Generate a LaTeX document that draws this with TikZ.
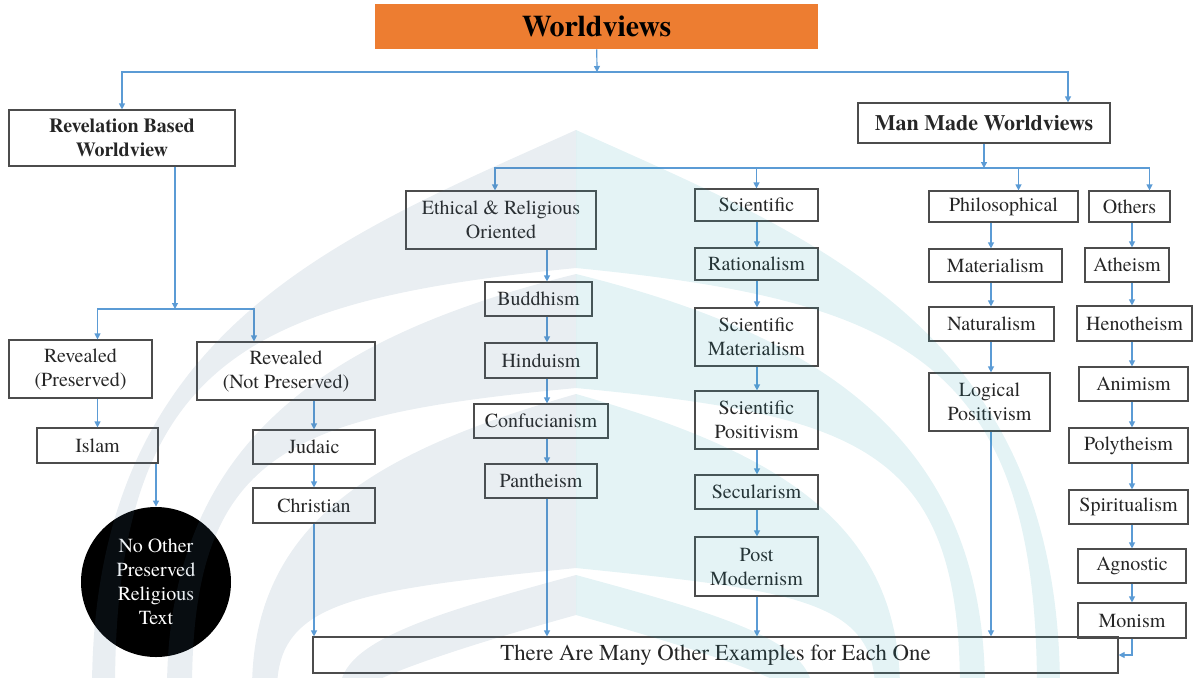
\documentclass[tikz,border=0pt]{standalone}
\usepackage{fontspec}
\setmainfont{texgyretermes}[Extension=.otf, UprightFont=*-regular, BoldFont=*-bold,
  ItalicFont=*-italic, BoldItalicFont=*-bolditalic]
\usetikzlibrary{arrows.meta}

\definecolor{linkblue}{HTML}{5B9BD5}
\definecolor{titleorange}{HTML}{ED7D31}
\definecolor{wmgray}{HTML}{487193}
\definecolor{wmteal}{HTML}{1E9BAC}

% one pointed arch of the fan, mirrored about x=576
\newcommand{\fanarch}[5]{(#1,690) .. controls (#1,#2) and (#3,#4) .. (576,#5) .. controls ({1152-#3},#4) and ({1152-#1},#2) .. ({1152-#1},690) -- cycle}
% the bands: outer arch, then the inner one cut out of it
\newcommand{\fanbands}{92/330/336/238/130/115/360/250/300/268,
  167/440/330/335/274/192/450/290/415/388,
  252/520/380/450/394/277/600/360/590/568,
  340/640/440/612/575/365/680/450/650/615}

\tikzset{
  box/.style={draw=black!70, line width=0.6pt, inner sep=0pt, align=center,
    text=black!85, font=\fontsize{10}{12}\selectfont},
  head/.style={box, font=\fontsize{10}{12}\selectfont\bfseries},
  link/.style={draw=linkblue, line width=0.6pt, -{Triangle[length=3pt,width=3pt]}},
}

\begin{document}
\begin{tikzpicture}[x=0.5pt, y=-0.5pt]
  \useasboundingbox (0,0) rectangle (1194,677);

  % top
  \node[fill=titleorange, minimum width=221.5pt, minimum height=22.5pt,
    font=\fontsize{15}{18}\selectfont\bfseries] (title) at (596.5,26.5) {Worldviews};
  \node[head, minimum width=113pt, minimum height=28pt] (rev) at (122,138) {Revelation Based\\Worldview};
  \node[head, minimum width=126pt, minimum height=20pt,
    font=\fontsize{11}{13}\selectfont\bfseries] (man) at (984,123) {Man Made Worldviews};

  % revelation side
  \node[box, minimum width=71.5pt, minimum height=29pt] (pres) at (80.5,369) {Revealed\\(Preserved)};
  \node[box, minimum width=89pt, minimum height=29pt] (notpres) at (286,371) {Revealed\\(Not Preserved)};
  \node[box, minimum width=60.5pt, minimum height=17.5pt] (islam) at (97.5,445.5) {Islam};
  \node[box, minimum width=61pt, minimum height=17pt] (judaic) at (314,447) {Judaic};
  \node[box, minimum width=61pt, minimum height=17.5pt] (christian) at (314,505.5) {Christian};
  \node[circle, fill=black, text=white, minimum size=75pt, inner sep=0pt, align=center,
    font=\fontsize{10}{12}\selectfont] (circ) at (156,582) {No Other\\Preserved\\Religious\\Text};

  % ethical & religious
  \node[box, minimum width=95pt, minimum height=29pt] (ethical) at (501,220) {Ethical \& Religious\\Oriented};
  \node[box, minimum width=53.5pt, minimum height=17pt] (buddhism) at (538.5,299) {Buddhism};
  \node[box, minimum width=56pt, minimum height=17.5pt] (hinduism) at (541,360.5) {Hinduism};
  \node[box, minimum width=67pt, minimum height=17pt] (confucianism) at (541,421) {Confucianism};
  \node[box, minimum width=56pt, minimum height=17pt] (pantheism) at (541,481) {Pantheism};

  % scientific
  \node[box, minimum width=61.5pt, minimum height=16pt] (scientific) at (756.5,205) {Scientific};
  \node[box, minimum width=61.5pt, minimum height=16pt] (rationalism) at (756.5,264) {Rationalism};
  \node[box, minimum width=61.5pt, minimum height=29pt] (scimat) at (756.5,337) {Scientific\\Materialism};
  \node[box, minimum width=61.5pt, minimum height=29pt] (scipos) at (756.5,420) {Scientific\\Positivism};
  \node[box, minimum width=61.5pt, minimum height=17pt] (secular) at (756.5,492) {Secularism};
  \node[box, minimum width=61.5pt, minimum height=29.5pt] (postmod) at (756.5,566.5) {Post\\Modernism};

  % philosophical
  \node[box, minimum width=74.5pt, minimum height=15.5pt] (philo) at (1003.5,206.5) {Philosophical};
  \node[box, minimum width=66.5pt, minimum height=16.5pt] (materialism) at (995.5,265.5) {Materialism};
  \node[box, minimum width=62.5pt, minimum height=17pt] (naturalism) at (991.5,324) {Naturalism};
  \node[box, minimum width=60.5pt, minimum height=29pt] (logpos) at (989.5,402) {Logical\\Positivism};

  % others
  \node[box, minimum width=40.5pt, minimum height=15.5pt] (others) at (1129.5,206.5) {Others};
  \node[box, minimum width=42pt, minimum height=17pt] (atheism) at (1127,265) {Atheism};
  \node[box, minimum width=57.5pt, minimum height=17.5pt] (henotheism) at (1134.5,323.5) {Henotheism};
  \node[box, minimum width=54.5pt, minimum height=17pt] (animism) at (1133.5,384) {Animism};
  \node[box, minimum width=59.5pt, minimum height=17.5pt] (polytheism) at (1128.5,445.5) {Polytheism};
  \node[box, minimum width=59.5pt, minimum height=17pt] (spiritualism) at (1128.5,507) {Spiritualism};
  \node[box, minimum width=54pt, minimum height=17pt] (agnostic) at (1132,566) {Agnostic};
  \node[box, minimum width=54pt, minimum height=17.5pt] (monism) at (1132,620.5) {Monism};

  \node[box, minimum width=402.5pt, minimum height=18pt,
    font=\fontsize{11.4}{13}\selectfont] (bottom) at (715.5,655) {There Are Many Other Examples for Each One};

  % junctions and the x of each column
  \coordinate (j0) at (597,72);
  \coordinate (jrev) at (175,309);
  \coordinate (jman) at (984,168);
  \coordinate (ecol) at (547,0);
  \coordinate (scol) at (757,0);
  \coordinate (pcol) at (991,0);
  \coordinate (ocol) at (1132,0);

  \draw[link] (title) -- (j0);
  \draw[link] (j0) -| (rev.north);
  \draw[link] (j0) -| ([xshift=42pt]man.north);

  \draw[link] ([xshift=26.5pt]rev.south) -- (jrev);
  \draw[link] (jrev) -| (islam.north |- pres.north);
  \draw[link] (jrev) -| ([xshift=-16pt]notpres.north);
  \draw[link] (islam.north |- pres.south) -- (islam);
  \draw[link] (circ.north |- islam.south) -- (circ);
  \draw[link] (judaic.north |- notpres.south) -- (judaic);
  \draw[link] (judaic) -- (christian);
  \draw[link] (christian) -- (christian |- bottom.north);

  \draw[link] (man) -- (jman);
  \draw[link] (jman) -| ([xshift=-3pt]ethical.north);
  \draw[link] (jman) -| (scientific.north);
  \draw[link] (jman) -| ([xshift=7.5pt]philo.north);
  \draw[link] (jman) -| ([xshift=10pt]others.north);

  \foreach \a/\b in {ethical/buddhism, buddhism/hinduism, hinduism/confucianism,
      confucianism/pantheism, pantheism/bottom}
    \draw[link] (\a.south -| ecol) -- (\b.north -| ecol);
  \foreach \a/\b in {scientific/rationalism, rationalism/scimat, scimat/scipos,
      scipos/secular, secular/postmod, postmod/bottom}
    \draw[link] (\a.south -| scol) -- (\b.north -| scol);
  \foreach \a/\b in {philo/materialism, materialism/naturalism, naturalism/logpos, logpos/bottom}
    \draw[link] (\a.south -| pcol) -- (\b.north -| pcol);
  \foreach \a/\b in {others/atheism, atheism/henotheism, henotheism/animism, animism/polytheism,
      polytheism/spiritualism, spiritualism/agnostic, agnostic/monism}
    \draw[link] (\a.south -| ocol) -- (\b.north -| ocol);
  \draw[link] (monism.south -| ocol) |- (bottom.east);

  % faint fan laid over everything, grey on the left, teal on the right
  \begin{scope}[fill opacity=0.12]
    \begin{scope}
      \clip (0,0) rectangle (576,677);
      \foreach \ofoot/\oca/\ocx/\ocy/\otop/\nfoot/\nca/\ncx/\ncy/\ntop in \fanbands
        \fill[wmgray, even odd rule] \fanarch{\ofoot}{\oca}{\ocx}{\ocy}{\otop}
          \fanarch{\nfoot}{\nca}{\ncx}{\ncy}{\ntop};
    \end{scope}
    \begin{scope}
      \clip (576,0) rectangle (1194,677);
      \foreach \ofoot/\oca/\ocx/\ocy/\otop/\nfoot/\nca/\ncx/\ncy/\ntop in \fanbands
        \fill[wmteal, even odd rule] \fanarch{\ofoot}{\oca}{\ocx}{\ocy}{\otop}
          \fanarch{\nfoot}{\nca}{\ncx}{\ncy}{\ntop};
    \end{scope}
  \end{scope}
\end{tikzpicture}
\end{document}
